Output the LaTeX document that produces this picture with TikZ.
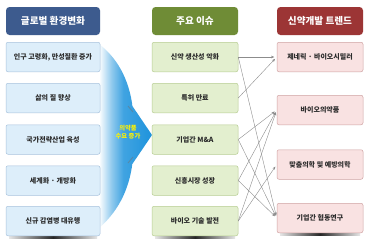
\documentclass[tikz,border=0pt]{standalone}
\usepackage{fontspec}
\setmainfont{Noto Sans CJK KR}
\usetikzlibrary{arrows.meta,calc}
\definecolor{hblue}{HTML}{3D5B8E}
\definecolor{hgreen}{HTML}{6F8C36}
\definecolor{hred}{HTML}{9C3535}
\definecolor{fblue}{HTML}{DDEEFA}
\definecolor{dblue}{HTML}{A9C3DD}
\definecolor{fgreen}{HTML}{E3EFCF}
\definecolor{dgreen}{HTML}{B7CD92}
\definecolor{fred}{HTML}{F9E2E2}
\definecolor{dred}{HTML}{CFA3A3}
\definecolor{arrblue}{HTML}{1E93DC}
\definecolor{txt}{HTML}{2B2B2B}
\pgfdeclarehorizontalshading{arrsh}{100bp}{color(0bp)=(white); color(25bp)=(white); color(37bp)=(arrblue!50); color(48bp)=(arrblue!85); color(75bp)=(arrblue); color(100bp)=(arrblue)}
\tikzset{
  header/.style={rounded corners=3.5pt, minimum width=86pt, minimum height=28pt,
    text=white, font=\fontsize{9.6}{12}\selectfont\bfseries, inner sep=0pt},
  cbox/.style={rounded corners=2pt, minimum width=86pt, minimum height=29.5pt,
    text=txt, font=\fontsize{7}{8}\selectfont\bfseries, inner sep=0pt, line width=0.5pt},
  lbox/.style={cbox, fill=fblue, draw=dblue, minimum width=94pt},
  mbox/.style={cbox, fill=fgreen, draw=dgreen},
  rbox/.style={cbox, fill=fred, draw=dred},
  link/.style={draw=black!45, line width=0.4pt, -{Stealth[length=3.2pt,width=2.6pt]}, shorten >=2.5pt},
  bshadow/.style={left color=black!10, right color=black!10, middle color=black!85}
}
\begin{document}
\begin{tikzpicture}[x=1pt,y=-1pt]
\useasboundingbox (0,0) rectangle (374,244);
\fill[white] (0,0) rectangle (374,244);

% big curved arrow
\shade[shading=arrsh]
  (99,44) .. controls (120,60) and (131,85) .. (133,112)
  -- (131,104) -- (152,135) -- (131,166) -- (133,157)
  .. controls (131,185) and (120,210) .. (99,228) -- cycle;
\draw[black!55, line width=0.9pt, opacity=0.5] (128,106) -- (133,112);
\draw[black!55, line width=0.9pt, opacity=0.5] (128,163) -- (133,157);
\node[text=yellow, font=\fontsize{6.3}{7.5}\selectfont\bfseries, align=center, inner sep=0pt]
  (dem) at (128,132) {의약품\\수요 증가};

% shadows under last boxes
\shade[bshadow] (9,234) rectangle (97,238);
\shade[bshadow] (155,234) rectangle (235,238);
\shade[bshadow] (280,231) rectangle (360,235);

% headers
\node[header, fill=hblue, minimum width=94pt] (lh) at (53,21) {글로벌 환경변화};
\node[header, fill=hgreen] (mh) at (195,21) {주요 이슈};
\node[header, fill=hred] (rh) at (320,21) {신약개발 트렌드};

% left column
\node[lbox] (l1) at (53,57) {인구 고령화, 만성질환 증가};
\node[lbox] (l2) at (53,98) {삶의 질 향상};
\node[lbox] (l3) at (53,139.5) {국가전략산업 육성};
\node[lbox] (l4) at (53,180.5) {세계화 · 개방화};
\node[lbox] (l5) at (53,221) {신규 감염병 대유행};

% middle column
\node[mbox] (m1) at (195,57) {신약 생산성 악화};
\node[mbox] (m2) at (195,98) {특허 만료};
\node[mbox] (m3) at (195,139.5) {기업간 M\&A};
\node[mbox] (m4) at (195,180.5) {신흥시장 성장};
\node[mbox] (m5) at (195,221) {바이오 기술 발전};

% right column
\node[rbox] (r1) at (320,57) {제네릭 · 바이오시밀러};
\node[rbox] (r2) at (320,110) {바이오의약품};
\node[rbox] (r3) at (320,164.5) {맞춤의학 및 예방의학};
\node[rbox] (r4) at (320,218) {기업간 협동연구};

% connectors
\draw[link] (m1.east) -- (r1.west);
\draw[link] (m1.east) -- (r4.west);
\draw[link] (m2.east) -- (r1.west);
\draw[link] (m3.east) -- (r2.west);
\draw[link] (m3.east) -- (r4.west);
\draw[link] (m4.east) -- (r2.west);
\draw[link] (m4.east) -- (r4.west);
\draw[link] (m5.east) -- (r2.west);
\draw[link] (m5.east) -- (r3.west);
\end{tikzpicture}
\end{document}
